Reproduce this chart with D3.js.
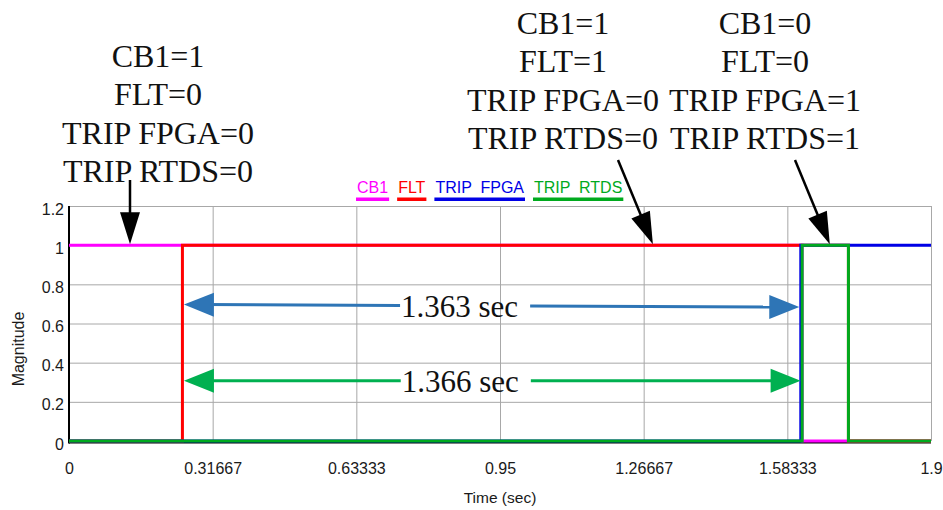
<!DOCTYPE html>
<html>
<head>
<meta charset="utf-8">
<script src="https://cdn.jsdelivr.net/npm/d3@7"></script>
<style>
  body { margin: 0; background: #fff; }
  svg { display: block; }
</style>
</head>
<body>
<svg id="chart" width="943" height="510"></svg>
<script>
// Axis ticks
const xTickValues = [0, 0.31667, 0.63333, 0.95, 1.26667, 1.58333, 1.9];
const xTickLabels = ["0", "0.31667", "0.63333", "0.95", "1.26667", "1.58333", "1.9"];
const yTickValues = [0, 0.2, 0.4, 0.6, 0.8, 1, 1.2];
const yTickLabels = ["0", "0.2", "0.4", "0.6", "0.8", "1", "1.2"];

// Signals (step traces): switching instants in seconds and the level held from each one
const seriesNames = ["CB1", "FLT", "TRIP  FPGA", "TRIP  RTDS"];
const cb1Time = [0, 1.616, 1.9];
const cb1Value = [1, 0, 0];
const fltTime = [0, 0.25, 1.718, 1.9];
const fltValue = [0, 1, 0, 0];
const fpgaTime = [0, 1.613, 1.9];
const fpgaValue = [0, 1, 1];
const rtdsTime = [0, 1.616, 1.718, 1.9];
const rtdsValue = [0, 1, 0, 0];

// Fault inception and measured trip delays
const faultTime = 0.25;
const fpgaDelay = 1.363;
const rtdsDelay = 1.366;

// Signal states before the fault, during the fault, and after the trip
const stateBefore = ["CB1=1", "FLT=0", "TRIP FPGA=0", "TRIP RTDS=0"];
const stateFault = ["CB1=1", "FLT=1", "TRIP FPGA=0", "TRIP RTDS=0"];
const stateTrip = ["CB1=0", "FLT=0", "TRIP FPGA=1", "TRIP RTDS=1"];
const stateTimes = [0.1345, 1.287, 1.677]; // where each state callout points on the traces

const colors = ["#ff00ff", "#ff0000", "#0000e6", "#00aa1e"];

const svg = d3.select("#chart");
const margin = { left: 69, right: 12, top: 206, bottom: 69 };
const W = 943, H = 510;
const sans = "Arial, 'Liberation Sans', sans-serif";
const serif = "'Times New Roman', 'Liberation Serif', serif";

const x = d3.scaleLinear().domain([0, 1.9]).range([margin.left, W - margin.right]);
const y = d3.scaleLinear().domain([0, 1.2]).range([H - margin.bottom, margin.top]);

// Grid via axes
const gx = svg.append("g")
  .attr("transform", `translate(0,${y(0)})`)
  .call(d3.axisBottom(x).tickValues(xTickValues)
    .tickFormat((d, i) => xTickLabels[i])
    .tickSize(-(y(0) - y(1.2))).tickSizeOuter(0).tickPadding(22));
gx.select(".domain").remove();
gx.selectAll(".tick line").attr("stroke", "#a8a8a8").attr("stroke-width", 1);
gx.selectAll(".tick text")
  .attr("font-family", sans).attr("font-size", 16).attr("fill", "#1a1a1a");

const gy = svg.append("g")
  .attr("transform", `translate(${x(0)},0)`)
  .call(d3.axisLeft(y).tickValues(yTickValues)
    .tickFormat((d, i) => yTickLabels[i])
    .tickSize(-(x(1.9) - x(0))).tickSizeOuter(0).tickPadding(5));
gy.select(".domain").remove();
gy.selectAll(".tick line").attr("stroke", "#a8a8a8").attr("stroke-width", 1);
gy.selectAll(".tick text")
  .attr("font-family", sans).attr("font-size", 16).attr("fill", "#1a1a1a").attr("dy", "0.5em");

// Axis lines
svg.append("line").attr("x1", x(0)).attr("x2", x(0))
  .attr("y1", y(1.2)).attr("y2", y(0) + 2.5)
  .attr("stroke", "#000").attr("stroke-width", 2);
svg.append("line").attr("x1", x(0)).attr("x2", x(1.9))
  .attr("y1", y(0) + 1.5).attr("y2", y(0) + 1.5)
  .attr("stroke", "#000").attr("stroke-width", 2);

// Axis titles
svg.append("text").attr("x", (x(0) + x(1.9)) / 2).attr("y", 503)
  .attr("text-anchor", "middle").attr("font-family", sans)
  .attr("font-size", 15.5).attr("fill", "#1a1a1a").text("Time (sec)");
svg.append("text")
  .attr("transform", `translate(24,349) rotate(-90)`)
  .attr("text-anchor", "middle").attr("font-family", sans)
  .attr("font-size", 16).attr("fill", "#1a1a1a").text("Magnitude");

// Traces
const series = [
  { t: cb1Time, v: cb1Value },
  { t: fltTime, v: fltValue },
  { t: fpgaTime, v: fpgaValue },
  { t: rtdsTime, v: rtdsValue }
];
const line = d3.line()
  .x(d => x(d[0])).y(d => y(d[1]))
  .curve(d3.curveStepAfter);
series.forEach((s, i) => {
  svg.append("path")
    .datum(s.t.map((t, k) => [t, s.v[k]]))
    .attr("d", line)
    .attr("fill", "none")
    .attr("stroke", colors[i])
    .attr("stroke-width", 3)
    .attr("stroke-linejoin", "miter");
});

// Legend
const legend = svg.append("g").attr("font-family", sans).attr("font-size", 16);
let lx = 357;
seriesNames.forEach((name, i) => {
  const t = legend.append("text").attr("x", lx).attr("y", 193)
    .attr("fill", colors[i]).style("white-space", "pre").text(name);
  const w = t.node().getComputedTextLength();
  legend.append("rect").attr("x", lx - 1).attr("y", 197.5)
    .attr("width", w + 2).attr("height", 3.5).attr("fill", colors[i]);
  lx += w + 10;
});

// Arrow helper: filled triangular head with its tip at (xb, yb)
function arrowHead(g, xa, ya, xb, yb, color, len, half) {
  const dx = xb - xa, dy = yb - ya, L = Math.hypot(dx, dy);
  const ux = dx / L, uy = dy / L;
  const bx = xb - ux * len, by = yb - uy * len;
  g.append("path")
    .attr("d", `M${xb},${yb}L${bx - uy * half},${by + ux * half}L${bx + uy * half},${by - ux * half}Z`)
    .attr("fill", color);
}

// State callouts
const blocks = [
  { lines: stateBefore, cx: 158, top: 67, from: [130, 180] },
  { lines: stateFault, cx: 563, top: 34, from: [618, 160] },
  { lines: stateTrip, cx: 765, top: 34, from: [795, 160] }
];
blocks.forEach((b, i) => {
  const g = svg.append("g");
  b.lines.forEach((s, k) => {
    g.append("text").attr("x", b.cx).attr("y", b.top + k * 38.3)
      .attr("text-anchor", "middle").attr("font-family", serif)
      .attr("font-size", 32).attr("fill", "#111").text(s);
  });
  const tx = x(stateTimes[i]), ty = y(1) - 1;
  const [fx, fy] = b.from;
  const L = Math.hypot(tx - fx, ty - fy);
  g.append("line").attr("x1", fx).attr("y1", fy)
    .attr("x2", tx - (tx - fx) / L * 20).attr("y2", ty - (ty - fy) / L * 20)
    .attr("stroke", "#000").attr("stroke-width", 2.5);
  arrowHead(g, fx, fy, tx, ty, "#000", 32, 10);
});

// Delay dimension arrows between fault inception and each trip
function delayArrow(delay, yLeft, yRight, color) {
  const g = svg.append("g");
  const xl = x(faultTime) + 1.5, xr = x(faultTime + delay) - 1.5;
  const yl = y(yLeft), yr = y(yRight);
  const at = px => yl + (yr - yl) * (px - xl) / (xr - xl);
  const label = g.append("text").attr("x", (xl + xr) / 2 - 32).attr("y", (yl + yr) / 2 + 11)
    .attr("text-anchor", "middle").attr("font-family", serif)
    .attr("font-size", 31).attr("fill", "#111").text(delay.toFixed(3) + " sec");
  const bb = label.node().getBBox();
  const a = bb.x - 1, b = bb.x + bb.width + 12;
  g.append("line").attr("x1", xl + 20).attr("y1", at(xl + 20)).attr("x2", a).attr("y2", at(a))
    .attr("stroke", color).attr("stroke-width", 3);
  g.append("line").attr("x1", b).attr("y1", at(b)).attr("x2", xr - 20).attr("y2", at(xr - 20))
    .attr("stroke", color).attr("stroke-width", 3);
  arrowHead(g, xr, yr, xl, yl, color, 30, 12);
  arrowHead(g, xl, yl, xr, yr, color, 30, 12);
}
delayArrow(fpgaDelay, 0.697, 0.684, "#2e75b6");
delayArrow(rtdsDelay, 0.308, 0.308, "#00b050");
</script>
</body>
</html>
